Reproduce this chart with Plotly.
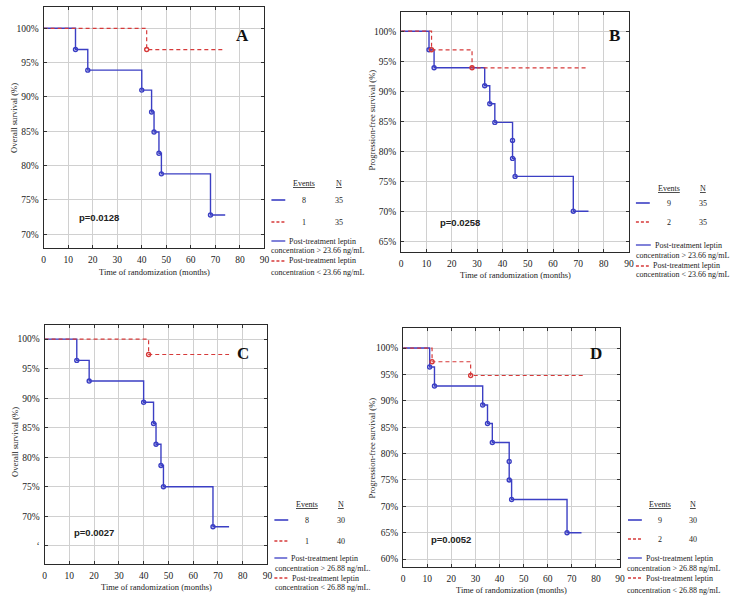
import plotly.graph_objects as go

# ---------------- data ----------------
# Panel A: overall survival, cut-off 23.66 ng/mL
A_blue_t = [0, 13, 18, 40, 44, 45, 47, 48, 68, 74]
A_blue_s = [100, 96.9, 93.9, 91.0, 87.8, 84.9, 81.8, 78.8, 72.8, 72.8]
A_red_t = [0, 42, 74]
A_red_s = [100, 96.9, 96.9]
# Panel B: progression-free survival, cut-off 23.66 ng/mL
B_blue_t = [0, 11, 13, 33, 35, 37, 44, 44, 45, 68, 74]
B_blue_s = [100, 96.9, 93.9, 90.9, 87.9, 84.8, 81.8, 78.8, 75.8, 70.0, 70.0]
B_red_t = [0, 12, 28, 74]
B_red_s = [100, 96.9, 93.9, 93.9]
# Panel C: overall survival, cut-off 26.88 ng/mL
C_blue_t = [0, 13, 18, 40, 44, 45, 47, 48, 68, 74.5]
C_blue_s = [100, 96.4, 92.9, 89.3, 85.7, 82.2, 78.6, 75.0, 68.2, 68.2]
C_red_t = [0, 42, 74.5]
C_red_s = [100, 97.4, 97.4]
# Panel D: progression-free survival, cut-off 26.88 ng/mL
D_blue_t = [0, 11, 13, 33, 35, 37, 44, 44, 45, 68, 74]
D_blue_s = [100, 96.4, 92.8, 89.2, 85.7, 82.1, 78.5, 75.0, 71.3, 65.0, 65.0]
D_red_t = [0, 12, 28, 74.5]
D_red_s = [100, 97.4, 94.8, 94.8]

x_ticks = [0, 10, 20, 30, 40, 50, 60, 70, 80, 90]
A_yticks = [70, 75, 80, 85, 90, 95, 100]
B_yticks = [65, 70, 75, 80, 85, 90, 95, 100]
C_yticks = [65, 70, 75, 80, 85, 90, 95, 100]
C_yticklabels = ["‘", "70%", "75%", "80%", "85%", "90%", "95%", "100%"]
D_yticks = [60, 65, 70, 75, 80, 85, 90, 95, 100]

A_events = ["8", "1"]; A_n = ["35", "35"]
B_events = ["9", "2"]; B_n = ["35", "35"]
C_events = ["8", "1"]; C_n = ["30", "40"]
D_events = ["9", "2"]; D_n = ["30", "40"]

A_p = "p=0.0128"; B_p = "p=0.0258"; C_p = "p=0.0027"; D_p = "p=0.0052"
OS_title = "Overall survival (%)"
PFS_title = "Progression-free survival (%)"
X_title = "Time of randomization (months)"
cut_A = "23.66"; cut_C = "26.88"

# ---------------- layout helpers ----------------
W, H = 736, 604
BLUE = "#3b3fc4"
RED = "#d63a3a"
SERIF = "Liberation Serif"
SANS = "Liberation Sans"

def px(x):
    return x / W

def py(y):
    return 1 - y / H

panels = [
    dict(key="A", bt=A_blue_t, bs=A_blue_s, rt=A_red_t, rs=A_red_s,
         box=(42, 265, 7, 248), yr=(68, 103.1), yt=A_yticks, ytl=None,
         ytitle=OS_title, ytx=12, yty=118, xty=272, letter=(243, 35), p=A_p, pxy=(98, 217),
         ev=A_events, n=A_n, cut=cut_A, leg_ev=(305, 340, 183, 200, 222),
         samp=(272, 285), lines=(241, 251, 261, 272), l1x=288, l2x=270, l3x=288, suffix=""),
    dict(key="B", bt=B_blue_t, bs=B_blue_s, rt=B_red_t, rs=B_red_s,
         box=(403, 633, 12, 252), yr=(63.2, 103.2), yt=B_yticks, ytl=None,
         ytitle=PFS_title, ytx=374, yty=120, xty=275, letter=(618, 36), p=B_p, pxy=(462, 223),
         ev=B_events, n=B_n, cut=cut_A, leg_ev=(673, 708, 188, 203, 222),
         samp=(640, 653), lines=(245, 256, 266, 275), l1x=657, l2x=638, l3x=655, suffix=""),
    dict(key="C", bt=C_blue_t, bs=C_blue_s, rt=C_red_t, rs=C_red_s,
         box=(43, 268, 325, 564), yr=(61.9, 102.4), yt=C_yticks, ytl=C_yticklabels,
         ytitle=OS_title, ytx=13, yty=442, xty=587, letter=(243, 353), p=C_p, pxy=(93, 532),
         ev=C_events, n=C_n, cut=cut_C, leg_ev=(308, 342, 504, 520, 541),
         samp=(275, 288), lines=(558, 568, 578, 587), l1x=290, l2x=274, l3x=291, suffix="."),
    dict(key="D", bt=D_blue_t, bs=D_blue_s, rt=D_red_t, rs=D_red_s,
         box=(405, 624, 328, 567), yr=(58.5, 103.8), yt=D_yticks, ytl=None,
         ytitle=PFS_title, ytx=374, yty=448, xty=590, letter=(600, 353), p=D_p, pxy=(453, 539),
         ev=D_events, n=D_n, cut=cut_C, leg_ev=(664, 698, 504, 520, 539),
         samp=(632, 645), lines=(558, 568, 578, 590), l1x=648, l2x=629, l3x=648, suffix=""),
]

fig = go.Figure()
layout = dict(
    width=W, height=H, margin=dict(l=0, r=0, t=0, b=0),
    paper_bgcolor="white", plot_bgcolor="white", showlegend=False,
    annotations=[], shapes=[],
)


def note(text, x, y, font, xanchor="center", angle=0):
    return dict(text=text, x=px(x), y=py(y), xref="paper", yref="paper", showarrow=False,
                xanchor=xanchor, yanchor="middle", textangle=angle, font=font)


for i, p in enumerate(panels):
    idx = "" if i == 0 else str(i + 1)
    xa, ya = "x" + idx, "y" + idx
    l, r, t, b = p["box"]
    axis_common = dict(
        showline=True, linecolor="#2a2a2a", linewidth=1.2, mirror="ticks",
        ticks="inside", ticklen=3, tickcolor="#333333",
        showgrid=True, gridcolor="#d0d0d0", gridwidth=1, zeroline=False,
        tickfont=dict(family=SERIF, size=9.5, color="#222222"),
    )
    layout["xaxis" + idx] = dict(
        axis_common, domain=[px(l), px(r)], range=[0, 90], anchor=ya,
        tickvals=x_ticks, ticklabelstandoff=2,
    )
    ytl = p["ytl"] if p["ytl"] else [f"{v}%" for v in p["yt"]]
    layout["yaxis" + idx] = dict(
        axis_common, domain=[py(b), py(t)], range=list(p["yr"]), anchor=xa,
        tickvals=p["yt"], ticktext=ytl, ticklabelstandoff=2,
    )

    # survival curves
    fig.add_trace(go.Scatter(x=p["bt"], y=p["bs"], mode="lines", line=dict(color=BLUE, width=1.4, shape="hv"),
                             xaxis=xa, yaxis=ya))
    fig.add_trace(go.Scatter(x=p["rt"], y=p["rs"], mode="lines",
                             line=dict(color=RED, width=1.2, shape="hv", dash="4px,3px"),
                             xaxis=xa, yaxis=ya))
    fig.add_trace(go.Scatter(x=p["bt"][1:-1], y=p["bs"][1:-1], mode="markers",
                             marker=dict(symbol="circle-open", size=4, color=BLUE, line=dict(width=1.4)),
                             xaxis=xa, yaxis=ya))
    fig.add_trace(go.Scatter(x=p["rt"][1:-1], y=p["rs"][1:-1], mode="markers",
                             marker=dict(symbol="circle-open", size=4, color=RED, line=dict(width=1.4)),
                             xaxis=xa, yaxis=ya))

    ann = layout["annotations"]
    shp = layout["shapes"]
    f85 = dict(family=SERIF, size=8.5, color="#222")
    f8 = dict(family=SERIF, size=8, color="#222")
    # axis titles
    ann.append(note(p["ytitle"], p["ytx"], p["yty"], f85, angle=-90))
    ann.append(note(X_title, (l + r) / 2, p["xty"], f85))
    # panel letter
    ann.append(note("<b>" + p["key"] + "</b>", p["letter"][0], p["letter"][1],
                    dict(family=SERIF, size=17, color="#111")))
    # p value
    ann.append(note("<b>" + p["p"] + "</b>", p["pxy"][0], p["pxy"][1],
                    dict(family=SANS, size=9.5, color="#222")))
    # legend table
    ex, nx, hy, by, ry = p["leg_ev"]
    s0, s1 = p["samp"]
    ann.append(note('<span style="text-decoration:underline">Events</span>', ex, hy, f8))
    ann.append(note('<span style="text-decoration:underline">N</span>', nx, hy, f8))
    for k, (yy, col, dash) in enumerate([(by, BLUE, "solid"), (ry, RED, "3px,2px")]):
        shp.append(dict(type="line", xref="paper", yref="paper", x0=px(s0), x1=px(s1 + 1), y0=py(yy), y1=py(yy),
                        line=dict(color=col, width=1.6, dash=dash)))
        ann.append(note(p["ev"][k], ex, yy, f8))
        ann.append(note(p["n"][k], nx, yy, f8))
    y1, y2, y3, y4 = p["lines"]
    shp.append(dict(type="line", xref="paper", yref="paper", x0=px(s0), x1=px(p["l1x"] - 2), y0=py(y1), y1=py(y1),
                    line=dict(color=BLUE, width=1.3)))
    shp.append(dict(type="line", xref="paper", yref="paper", x0=px(s0), x1=px(p["l3x"] - 2), y0=py(y3), y1=py(y3),
                    line=dict(color=RED, width=1.3, dash="3px,2px")))
    ann.append(note("Post-treatment leptin", p["l1x"], y1, f8, xanchor="left"))
    ann.append(note(f"concentration &gt; {p['cut']} ng/mL{p['suffix']}", p["l2x"], y2, f8, xanchor="left"))
    ann.append(note("Post-treatment leptin", p["l3x"], y3, f8, xanchor="left"))
    ann.append(note(f"concentration &lt; {p['cut']} ng/mL{p['suffix']}", p["l2x"], y4, f8, xanchor="left"))

fig.update_layout(**layout)
fig.write_html("out.html", config={"displayModeBar": False},
               post_script="document.body.style.margin='0';document.body.style.overflow='hidden';")
